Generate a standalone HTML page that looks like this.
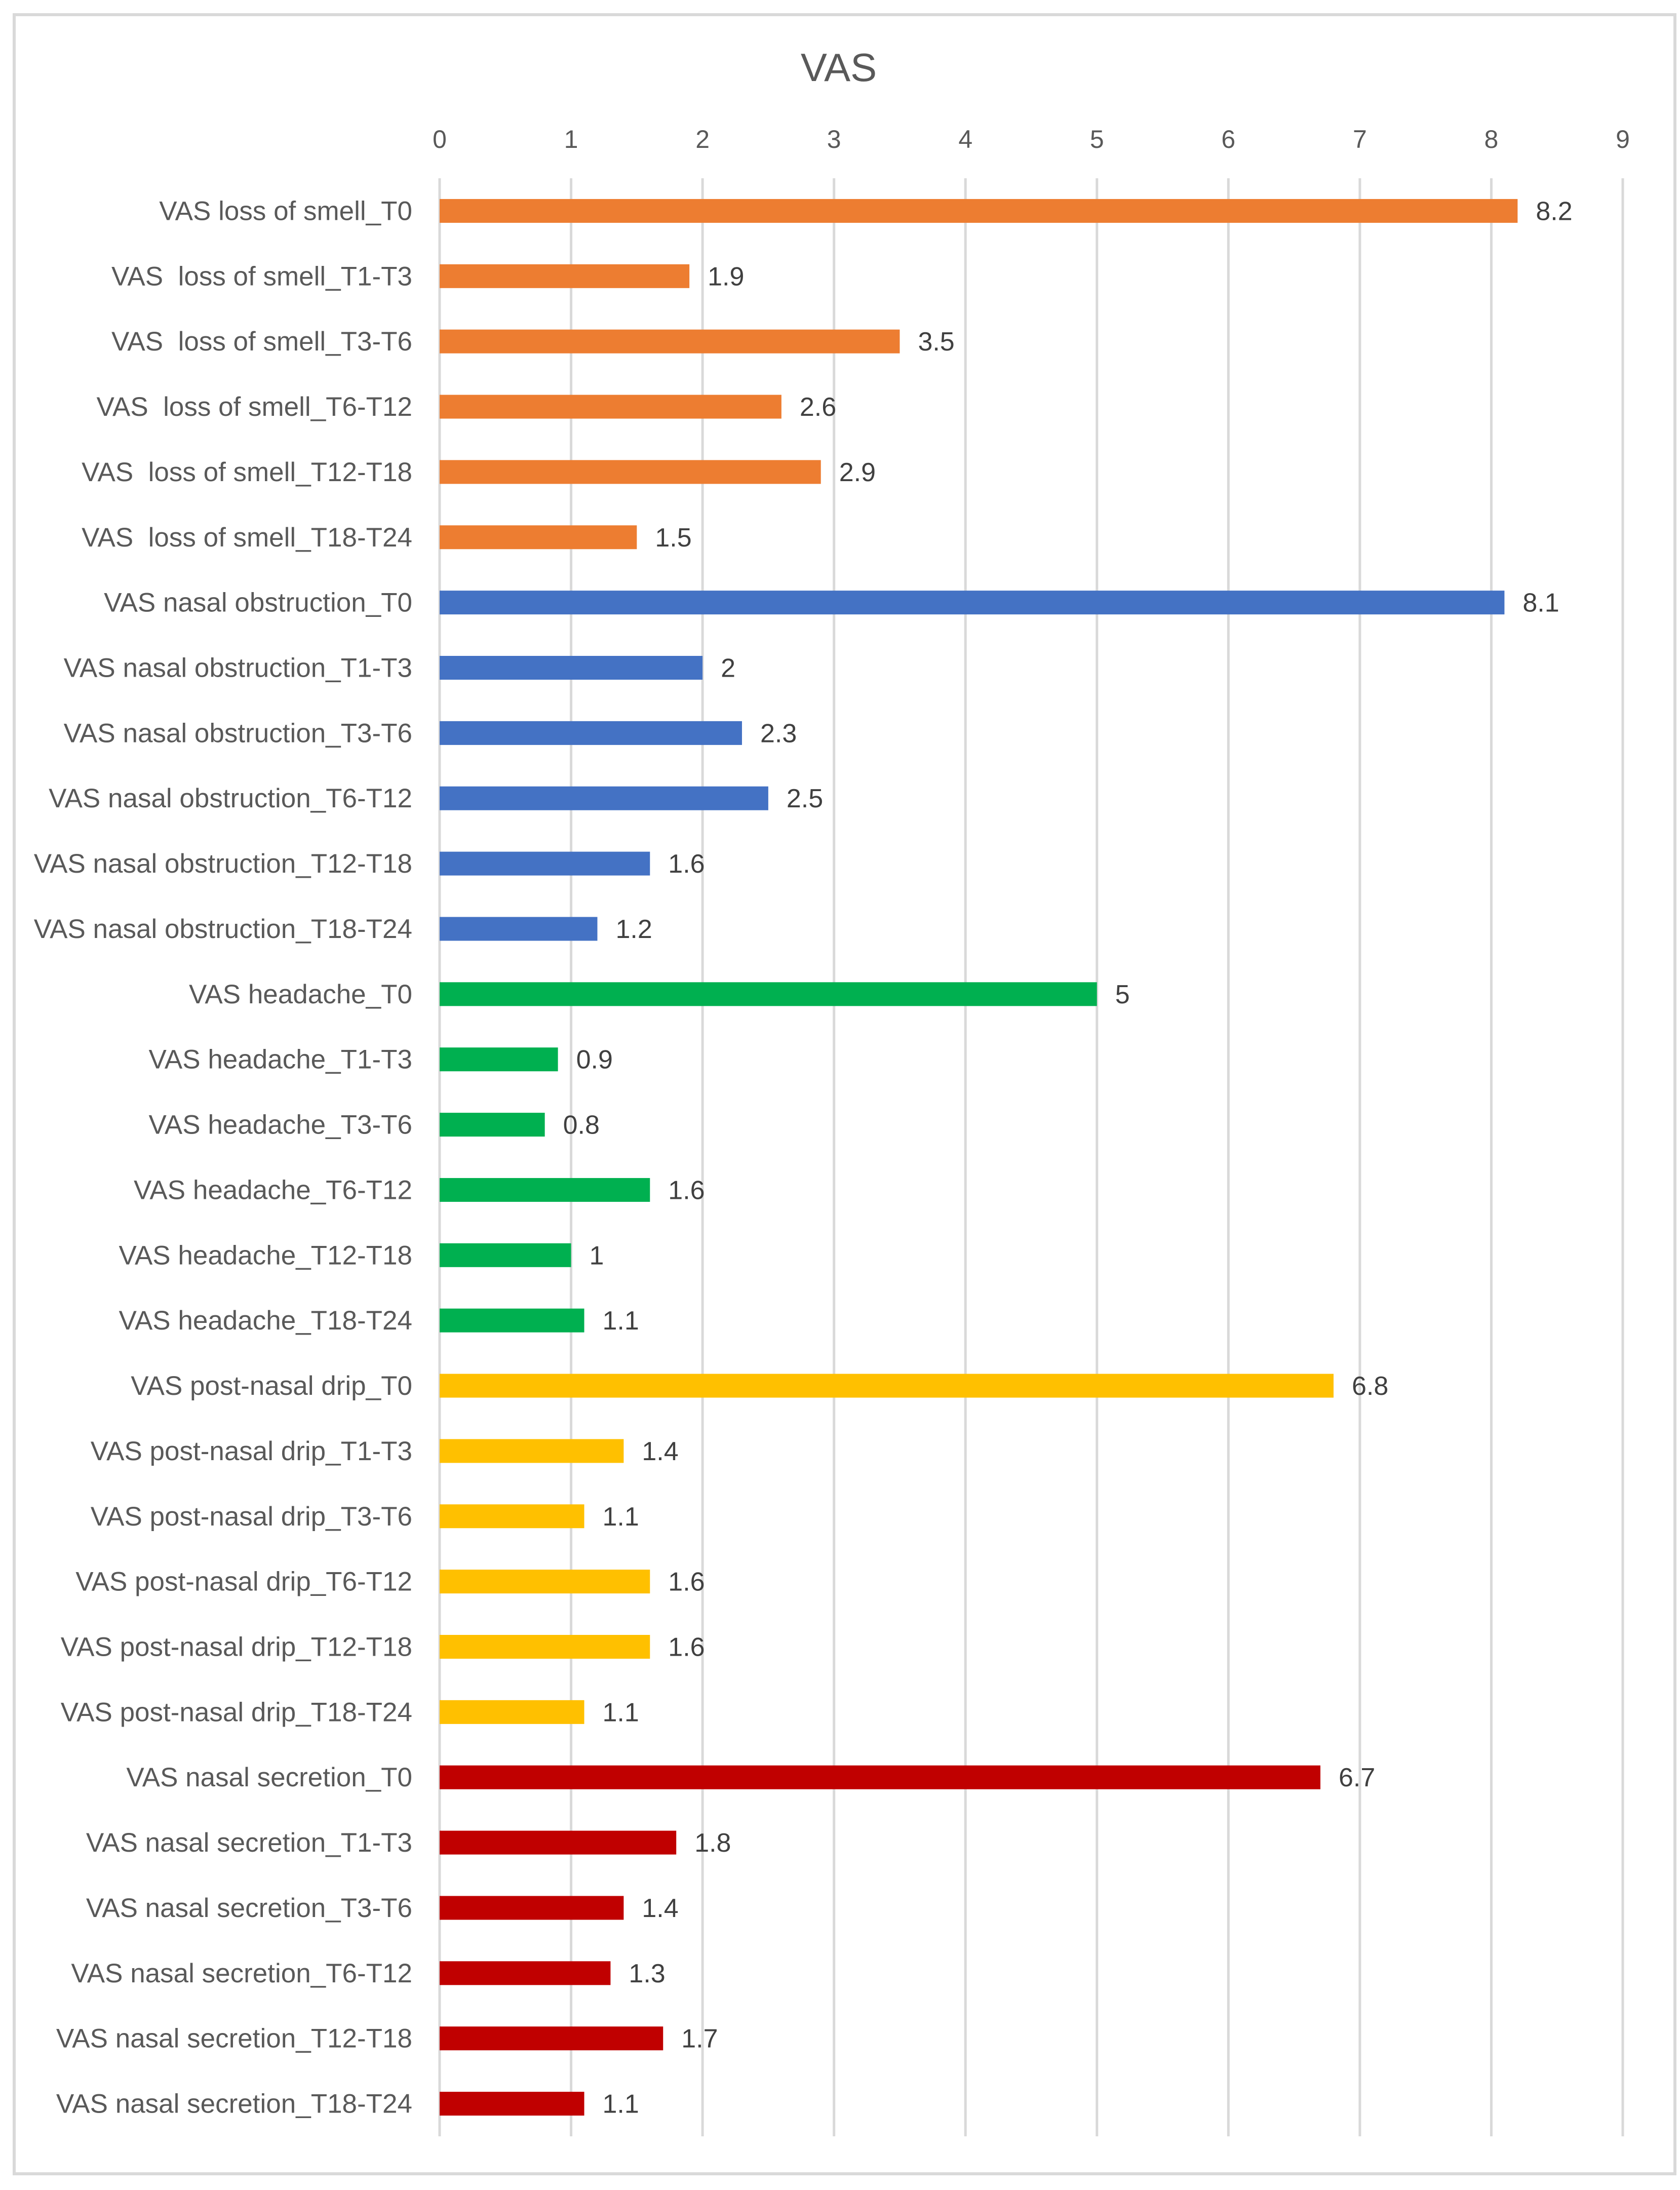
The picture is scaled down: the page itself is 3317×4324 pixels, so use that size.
<!DOCTYPE html>
<html><head><meta charset="utf-8"><style>
html,body{margin:0;padding:0;background:#fff;}
svg{display:block;font-family:"Liberation Sans",sans-serif;}
svg text{white-space:pre;}
</style></head><body>
<svg id="chart" width="3317" height="4324" viewBox="0 0 3317 4324" xmlns="http://www.w3.org/2000/svg">
<rect x="28" y="29" width="3279" height="4263" fill="#fff" stroke="#d9d9d9" stroke-width="6"/>
<text x="1656" y="160" font-size="78" fill="#595959" text-anchor="middle">VAS</text>
<g id="grid"></g><g id="bars"></g><g id="labels"></g>
</svg>
<script>
const categories = ["VAS loss of smell_T0","VAS  loss of smell_T1-T3","VAS  loss of smell_T3-T6","VAS  loss of smell_T6-T12","VAS  loss of smell_T12-T18","VAS  loss of smell_T18-T24",
"VAS nasal obstruction_T0","VAS nasal obstruction_T1-T3","VAS nasal obstruction_T3-T6","VAS nasal obstruction_T6-T12","VAS nasal obstruction_T12-T18","VAS nasal obstruction_T18-T24",
"VAS headache_T0","VAS headache_T1-T3","VAS headache_T3-T6","VAS headache_T6-T12","VAS headache_T12-T18","VAS headache_T18-T24",
"VAS post-nasal drip_T0","VAS post-nasal drip_T1-T3","VAS post-nasal drip_T3-T6","VAS post-nasal drip_T6-T12","VAS post-nasal drip_T12-T18","VAS post-nasal drip_T18-T24",
"VAS nasal secretion_T0","VAS nasal secretion_T1-T3","VAS nasal secretion_T3-T6","VAS nasal secretion_T6-T12","VAS nasal secretion_T12-T18","VAS nasal secretion_T18-T24"];
const values = [8.2,1.9,3.5,2.6,2.9,1.5, 8.1,2,2.3,2.5,1.6,1.2, 5,0.9,0.8,1.6,1,1.1, 6.8,1.4,1.1,1.6,1.6,1.1, 6.7,1.8,1.4,1.3,1.7,1.1];
const groupColors = ["#ED7D31","#4472C4","#00B050","#FFC000","#C00000"];
const ticks = [0,1,2,3,4,5,6,7,8,9];

const NS="http://www.w3.org/2000/svg";
const x0=868, x9=3204, gTop=352, gBot=4218;
const xs = v => x0 + (v-ticks[0])/(ticks[ticks.length-1]-ticks[0])*(x9-x0);
const band = (gBot-gTop)/categories.length;
const yc = i => gTop + band*(i+0.5);
function mk(tag, attrs, parent){const e=document.createElementNS(NS,tag);for(const k in attrs)e.setAttribute(k,attrs[k]);parent.appendChild(e);return e;}
const grid=document.getElementById('grid'), bars=document.getElementById('bars'), labels=document.getElementById('labels');
ticks.forEach(t=>{
  const l=mk('line',{x1:xs(t),x2:xs(t),y1:gTop,y2:gBot,stroke:'#d9d9d9','stroke-width':5},grid);
  
  
  const tx=mk('text',{x:xs(t),y:292,'font-size':50,fill:'#595959','text-anchor':'middle'},grid);
  tx.textContent=t;
  
  
});
categories.forEach((c,i)=>{
  const y=yc(i), v=values[i], col=groupColors[Math.floor(i/6)];
  const r=mk('rect',{x:xs(0),y:y-23.5,width:xs(v)-xs(0),height:47,fill:col},bars);
  
  
  const lb=mk('text',{x:814,y:y+18,'font-size':53,fill:'#595959','text-anchor':'end'},labels);
  lb.textContent=c;
  
  
  const vl=mk('text',{x:xs(v)+36,y:y+18,'font-size':52,fill:'#404040'},labels);
  vl.textContent=v;
  
  
});
</script>
</body></html>
